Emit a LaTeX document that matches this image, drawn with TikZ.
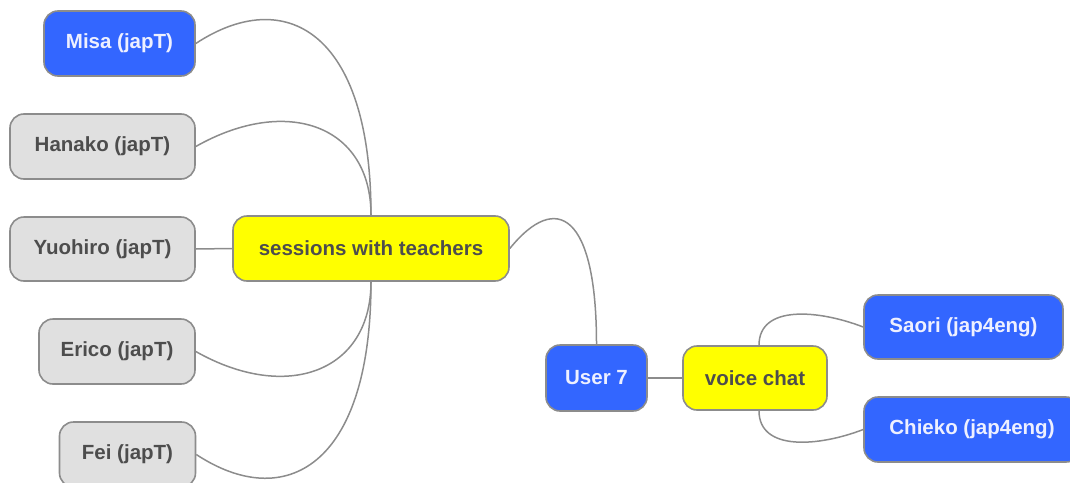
\documentclass[tikz,border=0pt]{standalone}
\usepackage{fontspec}
\setmainfont{Liberation Sans}
\definecolor{nodeblue}{HTML}{3366FF}
\definecolor{nodegray}{HTML}{E0E0E0}
\definecolor{nodeyellow}{HTML}{FFFF00}
\definecolor{edgegray}{HTML}{8C8C8C}
\definecolor{textdark}{HTML}{4D4D4D}
\definecolor{textlight}{HTML}{EEF0FF}
\tikzset{
  topic/.style={draw=edgegray, line width=1.6pt, rounded corners=14pt,
    inner sep=0pt, align=center,
    font=\fontsize{20.5}{24}\selectfont\bfseries},
  bluebox/.style={topic, fill=nodeblue, text=textlight},
  graybox/.style={topic, fill=nodegray, text=textdark},
  yellowbox/.style={topic, fill=nodeyellow, text=textdark},
  link/.style={draw=edgegray, line width=1.5pt}
}
\begin{document}
\begin{tikzpicture}[x=1pt, y=-1pt]
\useasboundingbox (0,0) rectangle (1070,482);
\clip (0,0) rectangle (1070,482);

% central branch: sessions with teachers
\node[yellowbox, minimum width=276pt, minimum height=65pt] (st) at (371,248.5) {sessions with teachers};
\node[bluebox, minimum width=151pt, minimum height=65pt] (misa) at (119.5,43.5) {Misa (japT)};
\node[graybox, minimum width=185pt, minimum height=65pt] (hanako) at (102.5,146.5) {Hanako (japT)};
\node[graybox, minimum width=185pt, minimum height=64pt] (yuohiro) at (102.5,249) {Yuohiro (japT)};
\node[graybox, minimum width=156pt, minimum height=65pt] (erico) at (117,351.5) {Erico (japT)};
\node[graybox, minimum width=136pt, minimum height=65pt] (fei) at (127.5,454.5) {Fei (japT)};

% root and voice chat branch
\node[bluebox, minimum width=101pt, minimum height=66pt] (user) at (596.5,378) {User 7};
\node[yellowbox, minimum width=144pt, minimum height=64pt] (vc) at (755,378) {voice chat};
\node[bluebox, minimum width=199pt, minimum height=64pt] (saori) at (963.5,327) {Saori (jap4eng)};
\node[bluebox, minimum width=216pt, minimum height=65pt] (chieko) at (972,429.5) {Chieko (jap4eng)};

% connectors
\draw[link] (misa.east) .. controls +(88,-58) and +(0,-186) .. (st.north);
\draw[link] (hanako.east) .. controls +(90,-51) and +(0,-91) .. (st.north);
\draw[link] (yuohiro.east) -- (st.west);
\draw[link] (erico.east) .. controls +(90,51) and +(0,91) .. (st.south);
\draw[link] (fei.east) .. controls +(88,58) and +(0,186) .. (st.south);
\draw[link] (st.east) .. controls +(47,-58) and +(0,-130) .. (user.north);
\draw[link] (user.east) -- (vc.west);
\draw[link] (saori.west) .. controls +(-44,-17) and +(0,-41) .. ([xshift=4pt]vc.north);
\draw[link] (chieko.west) .. controls +(-44,17) and +(0,41) .. ([xshift=4pt]vc.south);
\end{tikzpicture}
\end{document}
